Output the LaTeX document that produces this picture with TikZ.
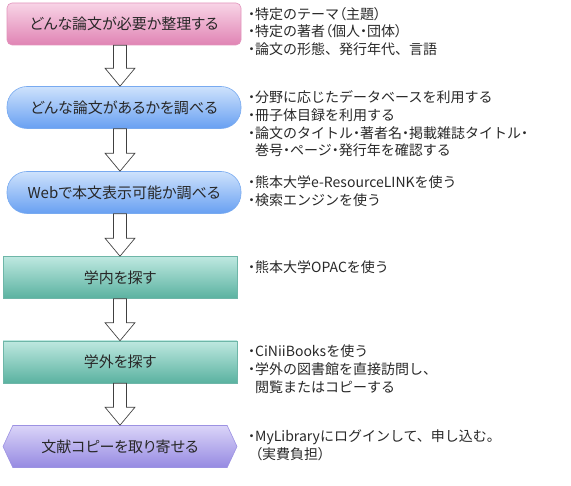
\documentclass[tikz,border=0pt]{standalone}
\usepackage{fontspec}
\setmainfont{Noto Sans CJK JP}
\newfontfamily\boxfont{Noto Sans CJK JP}[RawFeature=+palt]
\usetikzlibrary{positioning,calc,shapes.symbols}
\definecolor{pinktop}  {RGB}{248,212,230}
\definecolor{pinkbot}  {RGB}{224,132,180}
\definecolor{pinkedge} {RGB}{226,148,188}
\definecolor{bluetop}  {RGB}{206,226,252}
\definecolor{bluebot}  {RGB}{104,160,242}
\definecolor{blueedge} {RGB}{120,170,240}
\definecolor{tealtop}  {RGB}{190,232,224}
\definecolor{tealbot}  {RGB}{90,178,160}
\definecolor{tealedge} {RGB}{110,182,168}
\definecolor{violettop}{RGB}{218,212,248}
\definecolor{violetbot}{RGB}{150,138,226}
\definecolor{violetedge}{RGB}{156,146,226}
\definecolor{boxtext}  {RGB}{40,  40,  40}
% narrow (proportional) punctuation, as in the notes
\newcommand{\pa}[1]{{\addfontfeature{RawFeature=+palt}#1}}

\tikzset{
  stepbase/.style={minimum width=234pt, minimum height=42pt, inner sep=0pt,
                   line width=0.6pt, text=boxtext,
                   font=\boxfont\fontsize{15}{18}\selectfont},
  pinkbox/.style={stepbase, rounded corners=5pt, draw=pinkedge,
                  top color=pinktop, bottom color=pinkbot},
  bluebox/.style={stepbase, rounded corners=20pt, draw=blueedge,
                  top color=bluetop, bottom color=bluebot},
  tealbox/.style={stepbase, draw=tealedge,
                  top color=tealtop, bottom color=tealbot},
  violetbox/.style={stepbase, signal, signal to=west and east,
                    signal pointer angle=130, draw=violetedge,
                    top color=violettop, bottom color=violetbot},
  note/.style={anchor=north west, inner sep=0pt, align=left,
               text=boxtext, font=\fontsize{14}{17.7}\selectfont},
  flowarrow/.style={draw=black!75, fill=white, line width=0.7pt}
}

\begin{document}
\begin{tikzpicture}[x=1pt, y=-1pt]
    \useasboundingbox (0,0) rectangle (571,486);
    \coordinate (ax) at (120,0);

    % steps
    \node[pinkbox]   (p1) at (124,24)    {どんな論文が必要か整理する};
    \node[bluebox]   (p2) at (124,107.5) {どんな論文があるかを調べる};
    \node[bluebox]   (p3) at (124,192.5) {Webで本文表示可能か調べる};
    \node[tealbox]   (p4) at (120,277.5) {学内を探す};
    \node[tealbox]   (p5) at (120,362)   {学外を探す};
    \node[violetbox] (p6) at (120,446.5) {文献コピーを取り寄せる};

    % notes
    \node[note] (n1) at (248,7)
      {\pa{・}特定のテーマ\pa{（主題）}\\\pa{・}特定の著者\pa{（個人・団体）}\\
       \pa{・}論文の形態、発行年代、言語};
    \node[note] (n2) at (248,90.5)
      {\pa{・}分野に応じたデータベースを利用する\\\pa{・}冊子体目録を利用する\\
       \pa{・}論文のタイトル\pa{・}著者名\pa{・}掲載雑誌タイトル\pa{・}\\
       \phantom{\pa{・}}巻号\pa{・}ページ\pa{・}発行年を確認する};
    \node[note] (n3) at (248,175.5)
      {\pa{・}熊本大学e-ResourceLINKを使う\\\pa{・}検索エンジンを使う};
    \node[note] (n4) at (248,260.5)
      {\pa{・}熊本大学OPACを使う};
    \node[note] (n5) at (248,345)
      {\pa{・}CiNiiBooksを使う\\\pa{・}学外の図書館を直接訪問し、\\
       \phantom{\pa{・}}閲覧またはコピーする};
    \node[note] (n6) at (248,429.5)
      {\pa{・}MyLibraryにログインして、申し込む。\\\phantom{\pa{・}}\pa{（実費負担）}};

    % block arrows
    \foreach \a/\b in {p1/p2, p2/p3, p3/p4, p4/p5, p5/p6}
      \draw[flowarrow]
        ($(\a.south -| ax)+(-6.5,0)$) -- ($(\b.north -| ax)+(-6.5,-18)$)
        -- ($(\b.north -| ax)+(-15,-18)$) -- (\b.north -| ax)
        -- ($(\b.north -| ax)+(15,-18)$) -- ($(\b.north -| ax)+(6.5,-18)$)
        -- ($(\a.south -| ax)+(6.5,0)$) -- cycle;
  \end{tikzpicture}
\end{document}
